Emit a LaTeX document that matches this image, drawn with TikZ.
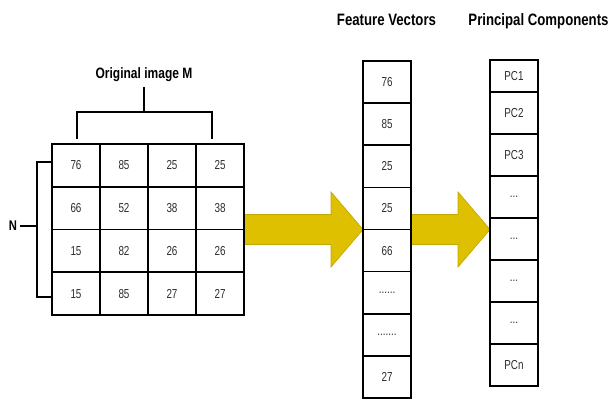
\documentclass[tikz,border=0pt]{standalone}
\usepackage{fontspec}
\setmainfont{Liberation Sans}
\newfontfamily\condfont[FakeStretch=0.8]{Liberation Sans}
\newfontfamily\cellfont[FakeStretch=0.76]{Liberation Sans}
\usetikzlibrary{calc}
\definecolor{arrowyellow}{RGB}{222,192,0}
\definecolor{arrowedge}{RGB}{196,168,0}
\definecolor{celltext}{RGB}{45,45,45}
\def\dotssix{......}
\def\dotsseven{.......}
\def\dotsthree{...}
\tikzset{
  cell/.style={draw=black, line width=1.6pt, fill=white, inner sep=0pt,
    text=celltext, font=\cellfont\fontsize{13}{15}\selectfont},
  title/.style={font=\condfont\bfseries\fontsize{16.5}{18}\selectfont, inner sep=0pt, anchor=base},
  bracket/.style={draw=black, line width=1.6pt},
  bigarrow/.style={fill=arrowyellow, draw=arrowedge, line width=0.7pt, line join=miter}
}
\begin{document}
\begin{tikzpicture}[x=1pt, y=-1pt]
\useasboundingbox (0,0) rectangle (611,399);
\fill[white] (0,0) rectangle (611,399);

% arrows (drawn first, boxes overlay them)
\coordinate (a1s) at (244,229.5);
\coordinate (a1t) at (363,229.5);
\coordinate (a2s) at (411,229.5);
\coordinate (a2t) at (490,229.5);
\path[bigarrow] ($(a1s)+(0,-15)$) -- (331,214.5) -- (331,192) -- (a1t) -- (331,267) -- (331,244.5) -- ($(a1s)+(0,15)$) -- cycle;
\path[bigarrow] ($(a2s)+(0,-15)$) -- (458,214.5) -- (458,192) -- (a2t) -- (458,267) -- (458,244.5) -- ($(a2s)+(0,15)$) -- cycle;

% image grid
\def\gw{48}\def\gh{42.75}
\foreach \r/\vals in {1/{76,85,25,25},2/{66,52,38,38},3/{15,82,26,26},4/{15,85,27,27}}{
  \foreach \v [count=\c] in \vals {
    \node[cell, minimum width=\gw pt, minimum height=\gh pt]
      (g\r\c) at ({52+\gw*(\c-0.5)},{144+\gh*(\r-0.5)}) {\v};
  }
}

% feature vector
\def\fh{42.125}
\foreach \v [count=\i] in {76,85,25,25,66,\dotssix,\dotsseven,27}{
  \node[cell, minimum width=48pt, minimum height=\fh pt]
    (fv\i) at (387,{61+\fh*(\i-0.5)}) {\v};
}

% principal components
\node[cell, minimum width=48pt, minimum height=32pt] (pc1) at (514,76) {PC1};
\foreach \v [count=\i from 2] in {PC2,PC3,\dotsthree,\dotsthree,\dotsthree,\dotsthree,PCn}{
  \node[cell, minimum width=48pt, minimum height=42pt]
    (pc\i) at (514,{92+42*(\i-2)+21}) {\v};
}

% titles
\node[title] (tfv) at (386.5,25) {Feature Vectors};
\node[title] (tpc) at (538.5,25) {Principal Components};
\node[title, font=\condfont\bfseries\fontsize{15}{17}\selectfont] (tm) at (144,78) {Original image M};
\node[font=\condfont\bfseries\fontsize{14}{16}\selectfont, inner sep=0pt] (tn) at (13,226) {N};

% top bracket
\coordinate (mtop) at (144,87);
\coordinate (mmid) at (144,112);
\coordinate (ml) at (77,139);
\coordinate (mr) at (212,139);
\draw[bracket] (mtop) -- (mmid);
\draw[bracket] (ml) |- (mmid) -| (mr);

% left bracket
\coordinate (nl) at (20,226);
\coordinate (nv) at (37,226);
\coordinate (nt) at (52,162);
\coordinate (nb) at (52,297);
\draw[bracket] (nl) -- (nv);
\draw[bracket] (nt) -| (nv) |- (nb);
\end{tikzpicture}
\end{document}
